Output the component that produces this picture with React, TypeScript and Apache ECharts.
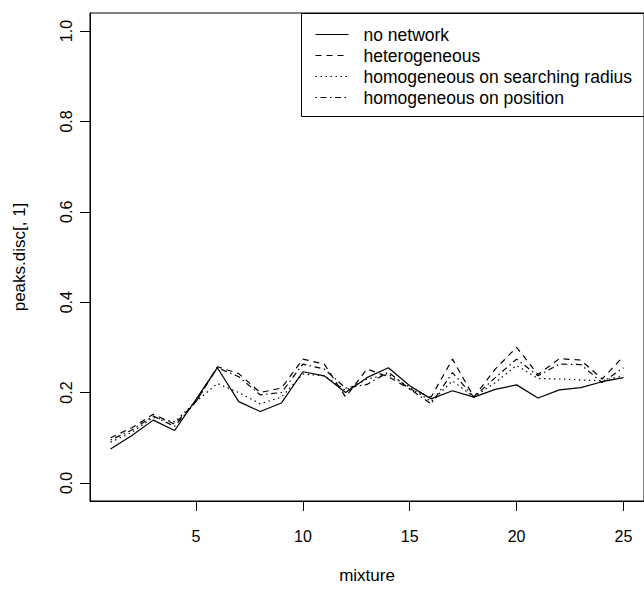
import React, { useEffect, useRef } from "react";
import * as echarts from "echarts";

const mixture = [1, 2, 3, 4, 5, 6, 7, 8, 9, 10, 11, 12, 13, 14, 15, 16, 17, 18, 19, 20, 21, 22, 23, 24, 25];
const noNetwork = [0.075, 0.105, 0.139, 0.116, 0.185, 0.255, 0.18, 0.158, 0.177, 0.246, 0.237, 0.2, 0.233, 0.255, 0.215, 0.186, 0.204, 0.19, 0.207, 0.217, 0.188, 0.206, 0.211, 0.224, 0.233];
const heterogeneous = [0.1, 0.122, 0.152, 0.13, 0.18, 0.257, 0.242, 0.2, 0.21, 0.274, 0.263, 0.19, 0.252, 0.235, 0.208, 0.19, 0.274, 0.19, 0.252, 0.3, 0.24, 0.275, 0.272, 0.23, 0.28];
const homogeneousRadius = [0.09, 0.112, 0.145, 0.135, 0.18, 0.22, 0.2, 0.175, 0.19, 0.241, 0.237, 0.205, 0.23, 0.24, 0.212, 0.18, 0.226, 0.19, 0.222, 0.26, 0.231, 0.23, 0.228, 0.226, 0.237];
const homogeneousPosition = [0.095, 0.117, 0.148, 0.125, 0.18, 0.255, 0.235, 0.195, 0.2, 0.263, 0.252, 0.21, 0.218, 0.245, 0.208, 0.175, 0.244, 0.19, 0.233, 0.274, 0.237, 0.263, 0.262, 0.222, 0.255];
const seriesNames = ["no network", "heterogeneous", "homogeneous on searching radius", "homogeneous on position"];
const yTicks = [0, 0.2, 0.4, 0.6, 0.8, 1.0];
const xTicks = [5, 10, 15, 20, 25];

export default function App() {
  const ref = useRef<HTMLDivElement>(null);
  useEffect(() => {
    const chart = echarts.init(ref.current!, null, { renderer: "svg" });
    const font = "'Liberation Sans', Arial, sans-serif";
    const mk = (name: string, values: number[], type: any) => ({
      name,
      type: "line",
      data: mixture.map((m, i) => [m, values[i]]),
      symbol: "none",
      silent: true,
      lineStyle: { color: "#000", width: 1.2, type },
      itemStyle: { color: "#000" },
    });
    chart.setOption({
      animation: false,
      backgroundColor: "#fff",
      textStyle: { fontFamily: font, color: "#000" },
      grid: { left: 90, top: 13, width: 557, height: 494, show: true, borderColor: "#000", borderWidth: 1 },
      xAxis: {
        type: "value",
        min: 0.04,
        max: 25.96,
        name: "mixture",
        nameLocation: "middle",
        nameGap: 66,
        nameTextStyle: { fontSize: 17, fontFamily: font, color: "#000" },
        axisLine: { show: true, onZero: false, lineStyle: { color: "#000", width: 1 } },
        axisTick: { show: true, length: 10, customValues: xTicks, lineStyle: { color: "#000" } },
        axisLabel: { customValues: xTicks, fontSize: 16, fontFamily: font, color: "#000", margin: 27 },
        splitLine: { show: false },
      },
      yAxis: {
        type: "value",
        min: -0.04,
        max: 1.04,
        name: "peaks.disc[, 1]",
        nameLocation: "middle",
        nameGap: 62,
        nameTextStyle: { fontSize: 17, fontFamily: font, color: "#000" },
        axisLine: { show: true, onZero: false, lineStyle: { color: "#000", width: 1 } },
        axisTick: { show: true, length: 10, customValues: yTicks, lineStyle: { color: "#000" } },
        axisLabel: {
          customValues: yTicks,
          rotate: 90,
          fontSize: 16,
          fontFamily: font,
          color: "#000",
          margin: 16,
          formatter: (v: number) => v.toFixed(1),
        },
        splitLine: { show: false },
      },
      legend: {
        data: seriesNames,
        orient: "vertical",
        left: 310,
        top: 20.5,
        itemWidth: 33,
        itemHeight: 14,
        itemGap: 3,
        selectedMode: false,
        itemStyle: { opacity: 0 },
        lineStyle: { width: 1 },
        textStyle: { fontSize: 17.5, fontFamily: font, color: "#000", lineHeight: 17, padding: [0, 0, 0, 10] },
      },
      graphic: [
        {
          type: "rect",
          shape: { x: 301.5, y: 13.5, width: 400, height: 103 },
          style: { fill: "none", stroke: "#000", lineWidth: 1 },
          z: 100,
        },
      ],
      series: [
        mk(seriesNames[0], noNetwork, "solid"),
        mk(seriesNames[1], heterogeneous, [6, 5]),
        mk(seriesNames[2], homogeneousRadius, [1.5, 3.5]),
        mk(seriesNames[3], homogeneousPosition, [1.5, 3.5, 6, 3.5]),
      ],
    });
    return () => chart.dispose();
  }, []);
  return <div ref={ref} style={{ position: "fixed", left: 0, top: 0, width: 644, height: 589, background: "#fff" }} />;
}
